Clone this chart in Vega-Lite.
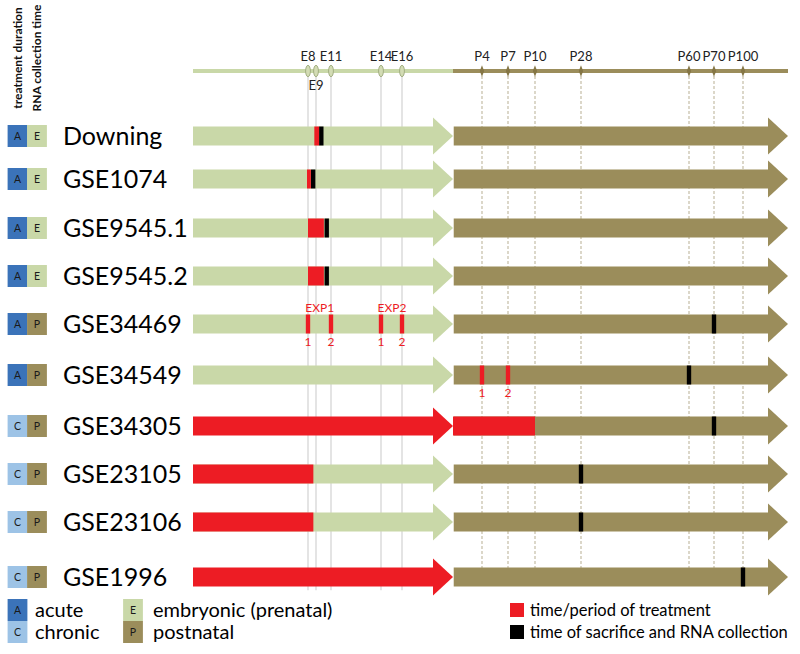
{
  "$schema": "https://vega.github.io/schema/vega-lite/v6.json",
  "width": 800,
  "height": 654,
  "autosize": "none",
  "padding": 0,
  "background": "white",
  "config": {"view": {"stroke": null}, "font": "Lato"},
  "datasets": {
    "ticks": [
      {"label": "E8", "day": 8, "stage": "E", "side": "above"},
      {"label": "E9", "day": 9, "stage": "E", "side": "below"},
      {"label": "E11", "day": 11, "stage": "E", "side": "above"},
      {"label": "E14", "day": 14, "stage": "E", "side": "above"},
      {"label": "E16", "day": 16, "stage": "E", "side": "above"},
      {"label": "P4", "day": 24, "stage": "P", "side": "above"},
      {"label": "P7", "day": 27, "stage": "P", "side": "above"},
      {"label": "P10", "day": 30, "stage": "P", "side": "above"},
      {"label": "P28", "day": 48, "stage": "P", "side": "above"},
      {"label": "P60", "day": 80, "stage": "P", "side": "above"},
      {"label": "P70", "day": 90, "stage": "P", "side": "above"},
      {"label": "P100", "day": 120, "stage": "P", "side": "above"}
    ],
    "timeline": [
      {"from": 0, "to": 20, "kind": "embryonic"},
      {"from": 20, "to": 140, "kind": "postnatal"}
    ],
    "rows": [
      {"name": "Downing", "lane": 1, "prenatal": "embryonic"},
      {"name": "GSE1074", "lane": 2, "prenatal": "embryonic"},
      {"name": "GSE9545.1", "lane": 3, "prenatal": "embryonic"},
      {"name": "GSE9545.2", "lane": 4, "prenatal": "embryonic"},
      {"name": "GSE34469", "lane": 5, "prenatal": "embryonic"},
      {"name": "GSE34549", "lane": 6, "prenatal": "embryonic"},
      {"name": "GSE34305", "lane": 7, "prenatal": "treatment"},
      {"name": "GSE23105", "lane": 8, "prenatal": "embryonic"},
      {"name": "GSE23106", "lane": 9, "prenatal": "embryonic"},
      {"name": "GSE1996", "lane": 10, "prenatal": "treatment"}
    ],
    "periods": [
      {"name": "Downing", "lane": 1, "from": 8.79, "to": 9.44, "kind": "treatment"},
      {"name": "GSE1074", "lane": 2, "from": 7.93, "to": 8.36, "kind": "treatment"},
      {"name": "GSE9545.1", "lane": 3, "from": 8.0, "to": 10.05, "kind": "treatment"},
      {"name": "GSE9545.2", "lane": 4, "from": 8.0, "to": 10.05, "kind": "treatment"},
      {"name": "GSE34305", "lane": 7, "from": 20, "to": 30, "kind": "treatment"},
      {"name": "GSE23105", "lane": 8, "from": 0, "to": 8.67, "kind": "treatment"},
      {"name": "GSE23106", "lane": 9, "from": 0, "to": 8.67, "kind": "treatment"}
    ],
    "events": [
      {"name": "Downing", "lane": 1, "day": 9.71, "kind": "collection"},
      {"name": "GSE1074", "lane": 2, "day": 8.65, "kind": "collection"},
      {"name": "GSE9545.1", "lane": 3, "day": 10.43, "kind": "collection"},
      {"name": "GSE9545.2", "lane": 4, "day": 10.43, "kind": "collection"},
      {"name": "GSE34469", "lane": 5, "day": 8, "kind": "treatment"},
      {"name": "GSE34469", "lane": 5, "day": 11, "kind": "treatment"},
      {"name": "GSE34469", "lane": 5, "day": 14, "kind": "treatment"},
      {"name": "GSE34469", "lane": 5, "day": 16, "kind": "treatment"},
      {"name": "GSE34469", "lane": 5, "day": 90, "kind": "collection"},
      {"name": "GSE34549", "lane": 6, "day": 24, "kind": "treatment"},
      {"name": "GSE34549", "lane": 6, "day": 27, "kind": "treatment"},
      {"name": "GSE34549", "lane": 6, "day": 80, "kind": "collection"},
      {"name": "GSE34305", "lane": 7, "day": 90, "kind": "collection"},
      {"name": "GSE23105", "lane": 8, "day": 48, "kind": "collection"},
      {"name": "GSE23106", "lane": 9, "day": 48, "kind": "collection"},
      {"name": "GSE1996", "lane": 10, "day": 120, "kind": "collection"}
    ],
    "notes": [
      {"lane": 5, "day": 9.5, "text": "EXP1", "side": "above"},
      {"lane": 5, "day": 15.05, "text": "EXP2", "side": "above"},
      {"lane": 5, "day": 8, "text": "1", "side": "below"},
      {"lane": 5, "day": 11, "text": "2", "side": "below"},
      {"lane": 5, "day": 14, "text": "1", "side": "below"},
      {"lane": 5, "day": 16, "text": "2", "side": "below"},
      {"lane": 6, "day": 24, "text": "1", "side": "below"},
      {"lane": 6, "day": 27, "text": "2", "side": "below"}
    ],
    "header": [
      {"text": "treatment duration", "slot": 0, "lane": 0},
      {"text": "RNA collection time", "slot": 2, "lane": 0}
    ],
    "badges": [
      {"lane": 1, "slot": 0, "kind": "acute", "letter": "A"},
      {"lane": 1, "slot": 2, "kind": "embryonic", "letter": "E"},
      {"lane": 2, "slot": 0, "kind": "acute", "letter": "A"},
      {"lane": 2, "slot": 2, "kind": "embryonic", "letter": "E"},
      {"lane": 3, "slot": 0, "kind": "acute", "letter": "A"},
      {"lane": 3, "slot": 2, "kind": "embryonic", "letter": "E"},
      {"lane": 4, "slot": 0, "kind": "acute", "letter": "A"},
      {"lane": 4, "slot": 2, "kind": "embryonic", "letter": "E"},
      {"lane": 5, "slot": 0, "kind": "acute", "letter": "A"},
      {"lane": 5, "slot": 2, "kind": "postnatal", "letter": "P"},
      {"lane": 6, "slot": 0, "kind": "acute", "letter": "A"},
      {"lane": 6, "slot": 2, "kind": "postnatal", "letter": "P"},
      {"lane": 7, "slot": 0, "kind": "chronic", "letter": "C"},
      {"lane": 7, "slot": 2, "kind": "postnatal", "letter": "P"},
      {"lane": 8, "slot": 0, "kind": "chronic", "letter": "C"},
      {"lane": 8, "slot": 2, "kind": "postnatal", "letter": "P"},
      {"lane": 9, "slot": 0, "kind": "chronic", "letter": "C"},
      {"lane": 9, "slot": 2, "kind": "postnatal", "letter": "P"},
      {"lane": 10, "slot": 0, "kind": "chronic", "letter": "C"},
      {"lane": 10, "slot": 2, "kind": "postnatal", "letter": "P"},
      {"lane": 11, "slot": 0, "kind": "acute", "letter": "A"},
      {"lane": 12, "slot": 0, "kind": "chronic", "letter": "C"},
      {"lane": 11, "slot": 4, "kind": "embryonic", "letter": "E"},
      {"lane": 12, "slot": 4, "kind": "postnatal", "letter": "P"}
    ],
    "legendText": [
      {"text": "acute", "slot": 1, "lane": 11},
      {"text": "chronic", "slot": 1, "lane": 12},
      {"text": "embryonic (prenatal)", "slot": 5, "lane": 11},
      {"text": "postnatal", "slot": 5, "lane": 12}
    ],
    "legendMarks": [
      {"text": "time/period of treatment", "kind": "treatment", "lane": 11},
      {"text": "time of sacrifice and RNA collection", "kind": "collection", "lane": 12}
    ]
  },
  "layer": [
    {
      "layer": [
        {
          "data": {"name": "ticks"},
          "transform": [{"filter": "datum.stage === 'E'"}],
          "mark": {"type": "rule", "color": "#dedede", "strokeWidth": 1.6},
          "encoding": {
            "x": {"field": "day", "type": "quantitative", "axis": null,
              "scale": {"type": "linear", "domain": [0, 8, 9, 11, 14, 16, 20, 24, 27, 30, 48, 80, 90, 120, 140], "range": [193, 308, 316, 331, 381, 402, 453, 482, 508, 535, 581, 689, 714, 743, 788], "zero": false, "nice": false}},
            "y": {"datum": 0, "type": "quantitative", "axis": null,
              "scale": {"type": "linear", "domain": [0, 1, 2, 3, 4, 5, 6, 7, 8, 9, 10, 11, 12], "range": [71, 136, 179, 228, 276, 324, 375, 426, 474, 522, 577, 610, 632], "zero": false, "nice": false}},
            "y2": {"datum": 10.4}
          }
        },
        {
          "data": {"name": "ticks"},
          "transform": [{"filter": "datum.stage === 'P'"}],
          "mark": {"type": "rule", "color": "#c9c2ad", "strokeWidth": 1.3, "strokeDash": [3, 2]},
          "encoding": {
            "x": {"field": "day", "type": "quantitative"},
            "y": {"datum": 0, "type": "quantitative"},
            "y2": {"datum": 10}
          }
        },
        {
          "data": {"name": "timeline"},
          "mark": {"type": "rule", "strokeWidth": 4, "strokeCap": "butt"},
          "encoding": {
            "x": {"field": "from", "type": "quantitative"},
            "x2": {"field": "to"},
            "y": {"datum": 0, "type": "quantitative"},
            "color": {"field": "kind", "type": "nominal", "legend": null,
              "scale": {"domain": ["embryonic", "postnatal", "treatment", "collection", "acute", "chronic"], "range": ["#c9d8a8", "#9b8d5b", "#ed1c24", "#000000", "#3b73b9", "#9dc3e6"]}}
          }
        },
        {
          "data": {"name": "ticks"},
          "transform": [{"filter": "datum.stage === 'E'"}],
          "mark": {"type": "point", "filled": true, "opacity": 1, "size": 130, "shape": "M0,-1A0.42,1 0 1,1 0,1A0.42,1 0 1,1 0,-1Z", "fill": "#d3dcb4", "stroke": "#a2ae82", "strokeWidth": 1},
          "encoding": {
            "x": {"field": "day", "type": "quantitative"},
            "y": {"datum": 0, "type": "quantitative"}
          }
        },
        {
          "data": {"name": "ticks"},
          "transform": [{"filter": "datum.stage === 'P'"}],
          "mark": {"type": "point", "filled": true, "opacity": 1, "size": 130, "shape": "M0,-1L0.38,0L0,1L-0.38,0Z", "fill": "#857645"},
          "encoding": {
            "x": {"field": "day", "type": "quantitative"},
            "y": {"datum": 0, "type": "quantitative"}
          }
        },
        {
          "data": {"name": "ticks"},
          "transform": [{"filter": "datum.side === 'above'"}],
          "mark": {"type": "text", "fontSize": 13, "color": "#222222", "baseline": "middle", "align": "center", "dy": -14},
          "encoding": {
            "x": {"field": "day", "type": "quantitative"},
            "y": {"datum": 0, "type": "quantitative"},
            "text": {"field": "label"}
          }
        },
        {
          "data": {"name": "ticks"},
          "transform": [{"filter": "datum.side === 'below'"}],
          "mark": {"type": "text", "fontSize": 13, "color": "#222222", "baseline": "middle", "align": "center", "dy": 15},
          "encoding": {
            "x": {"field": "day", "type": "quantitative"},
            "y": {"datum": 0, "type": "quantitative"},
            "text": {"field": "label"}
          }
        },
        {
          "data": {"name": "rows"},
          "mark": {"type": "rule", "strokeWidth": 19, "strokeCap": "butt"},
          "encoding": {
            "x": {"datum": 0, "type": "quantitative"},
            "x2": {"datum": 18.45},
            "y": {"field": "lane", "type": "quantitative"},
            "color": {"field": "prenatal", "type": "nominal"}
          }
        },
        {
          "data": {"name": "rows"},
          "mark": {"type": "point", "filled": true, "opacity": 1, "size": 1369, "shape": "M-1.08,-1L0,0L-1.08,1Z"},
          "encoding": {
            "x": {"datum": 20, "type": "quantitative"},
            "y": {"field": "lane", "type": "quantitative"},
            "color": {"field": "prenatal", "type": "nominal"}
          }
        },
        {
          "data": {"name": "rows"},
          "mark": {"type": "rule", "strokeWidth": 19, "strokeCap": "butt", "color": "#9b8d5b"},
          "encoding": {
            "x": {"datum": 20.1, "type": "quantitative"},
            "x2": {"datum": 132},
            "y": {"field": "lane", "type": "quantitative"}
          }
        },
        {
          "data": {"name": "rows"},
          "mark": {"type": "point", "filled": true, "opacity": 1, "size": 1369, "shape": "M-1.08,-1L0,0L-1.08,1Z", "color": "#9b8d5b"},
          "encoding": {
            "x": {"datum": 140, "type": "quantitative"},
            "y": {"field": "lane", "type": "quantitative"}
          }
        },
        {
          "data": {"name": "periods"},
          "mark": {"type": "rule", "strokeWidth": 19, "strokeCap": "butt"},
          "encoding": {
            "x": {"field": "from", "type": "quantitative"},
            "x2": {"field": "to"},
            "y": {"field": "lane", "type": "quantitative"},
            "color": {"field": "kind", "type": "nominal"}
          }
        },
        {
          "data": {"name": "events"},
          "mark": {"type": "point", "filled": true, "opacity": 1, "size": 361, "shape": "M-0.23,-1H0.23V1H-0.23Z"},
          "encoding": {
            "x": {"field": "day", "type": "quantitative"},
            "y": {"field": "lane", "type": "quantitative"},
            "color": {"field": "kind", "type": "nominal"}
          }
        },
        {
          "data": {"name": "notes"},
          "transform": [{"filter": "datum.side === 'above'"}],
          "mark": {"type": "text", "fontSize": 12, "color": "#ed1c24", "baseline": "middle", "align": "center", "dy": -16},
          "encoding": {
            "x": {"field": "day", "type": "quantitative"},
            "y": {"field": "lane", "type": "quantitative"},
            "text": {"field": "text"}
          }
        },
        {
          "data": {"name": "notes"},
          "transform": [{"filter": "datum.side === 'below'"}],
          "mark": {"type": "text", "fontSize": 12, "color": "#ed1c24", "baseline": "middle", "align": "center", "dy": 18},
          "encoding": {
            "x": {"field": "day", "type": "quantitative"},
            "y": {"field": "lane", "type": "quantitative"},
            "text": {"field": "text"}
          }
        }
      ]
    },
    {
      "layer": [
        {
          "data": {"name": "header"},
          "mark": {"type": "text", "angle": 270, "fontSize": 12, "fontWeight": "bold", "color": "#111111", "align": "center", "baseline": "middle", "dx": 13},
          "encoding": {
            "x": {"field": "slot", "type": "quantitative", "axis": null,
              "scale": {"type": "linear", "domain": [0, 1, 2, 3, 4, 5, 6, 7], "range": [17.5, 35, 37, 63, 133, 153, 517, 530], "zero": false, "nice": false}},
            "y": {"field": "lane", "type": "quantitative"},
            "text": {"field": "text"}
          }
        },
        {
          "data": {"name": "badges"},
          "mark": {"type": "point", "filled": true, "opacity": 1, "size": 484, "shape": "M-0.9,-1H0.9V1H-0.9Z"},
          "encoding": {
            "x": {"field": "slot", "type": "quantitative"},
            "y": {"field": "lane", "type": "quantitative"},
            "color": {"field": "kind", "type": "nominal"}
          }
        },
        {
          "data": {"name": "badges"},
          "mark": {"type": "text", "fontSize": 10.5, "color": "#1a1a1a", "align": "center", "baseline": "middle", "dy": 1},
          "encoding": {
            "x": {"field": "slot", "type": "quantitative"},
            "y": {"field": "lane", "type": "quantitative"},
            "text": {"field": "letter"}
          }
        },
        {
          "data": {"name": "rows"},
          "mark": {"type": "text", "fontSize": 25, "color": "#000000", "align": "left", "baseline": "alphabetic", "dy": 9},
          "encoding": {
            "x": {"datum": 3, "type": "quantitative"},
            "y": {"field": "lane", "type": "quantitative"},
            "text": {"field": "name"}
          }
        },
        {
          "data": {"name": "legendText"},
          "mark": {"type": "text", "fontSize": 20, "color": "#000000", "align": "left", "baseline": "alphabetic", "dy": 7},
          "encoding": {
            "x": {"field": "slot", "type": "quantitative"},
            "y": {"field": "lane", "type": "quantitative"},
            "text": {"field": "text"}
          }
        },
        {
          "data": {"name": "legendMarks"},
          "mark": {"type": "point", "filled": true, "opacity": 1, "size": 196, "shape": "square"},
          "encoding": {
            "x": {"datum": 6, "type": "quantitative"},
            "y": {"field": "lane", "type": "quantitative"},
            "color": {"field": "kind", "type": "nominal"}
          }
        },
        {
          "data": {"name": "legendMarks"},
          "mark": {"type": "text", "fontSize": 16.5, "color": "#000000", "align": "left", "baseline": "alphabetic", "dy": 6},
          "encoding": {
            "x": {"datum": 7, "type": "quantitative"},
            "y": {"field": "lane", "type": "quantitative"},
            "text": {"field": "text"}
          }
        }
      ]
    }
  ],
  "resolve": {"scale": {"x": "independent"}}
}
